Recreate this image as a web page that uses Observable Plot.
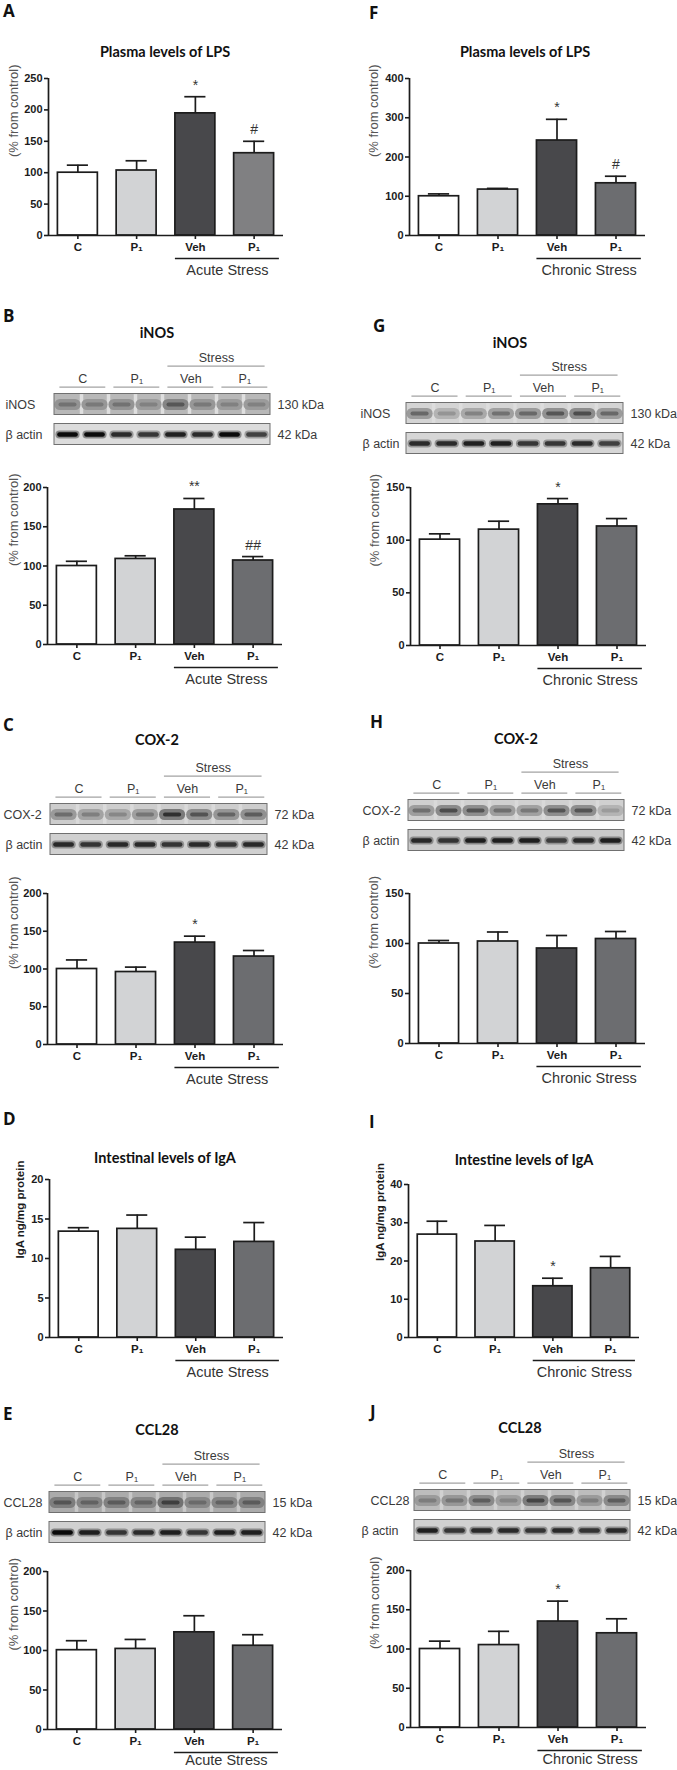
<!DOCTYPE html>
<html><head><meta charset="utf-8">
<script src="https://cdn.jsdelivr.net/npm/d3@7"></script>
<script src="https://cdn.jsdelivr.net/npm/@observablehq/plot@0.6"></script>
<style>
body{margin:0;background:#fff;}
#fig{position:relative;width:677px;height:1770px;overflow:hidden;background:#fff;font-family:"Liberation Sans",Arial,sans-serif;}
.letter{position:absolute;font-family:"Open Sans",Lato,sans-serif;font-weight:700;font-size:17px;color:#111;line-height:1;transform:translateY(-50%);}
.title{position:absolute;font-family:Lato,"Open Sans",sans-serif;font-weight:700;font-size:14.5px;color:#111;white-space:nowrap;line-height:1;transform:translate(-50%,-50%);}
</style></head><body><div id="fig"></div><script>
// ---------- categories ----------
const groups = ["C", "P₁", "Veh", "P₁"];
const blotGroups = ["C", "P₁", "Veh", "P₁"];
const barFills = ["#ffffff", "#d2d3d5", "#48484b", "#6c6d70"];
const barFillsA = ["#ffffff", "#d2d3d5", "#48484b", "#808082"];

// ---------- A: plasma LPS, acute ----------
const lpsAcuteMean = [100, 103.5, 194.5, 131];
const lpsAcuteSem = [12, 15.5, 26.5, 19];
const lpsAcuteSig = ["", "", "*", "#"];
const lpsAcuteTicks = [0, 50, 100, 150, 200, 250];
// ---------- F: plasma LPS, chronic ----------
const lpsChronicMean = [100, 117, 242, 133];
const lpsChronicSem = [6, 3, 54, 18];
const lpsChronicSig = ["", "", "*", "#"];
const lpsChronicTicks = [0, 100, 200, 300, 400];
// ---------- B: iNOS, acute ----------
const inosAcuteMean = [100, 109, 172, 107];
const inosAcuteSem = [6, 4, 14, 5];
const inosAcuteSig = ["", "", "**", "##"];
const inosAcuteTicks = [0, 50, 100, 150, 200];
const inosAcuteBands = [0.45, 0.4, 0.45, 0.35, 0.62, 0.4, 0.35, 0.35];
const inosAcuteActin = [0.95, 0.95, 0.8, 0.75, 0.85, 0.8, 0.95, 0.7];
// ---------- G: iNOS, chronic ----------
const inosChronicMean = [100.5, 110, 134, 113];
const inosChronicSem = [5.5, 8, 5.5, 7.5];
const inosChronicSig = ["", "", "*", ""];
const inosChronicTicks = [0, 50, 100, 150];
const inosChronicBands = [0.6, 0.35, 0.45, 0.55, 0.6, 0.7, 0.75, 0.6];
const inosChronicActin = [0.8, 0.8, 0.85, 0.85, 0.75, 0.75, 0.8, 0.7];
// ---------- C: COX-2, acute ----------
const cox2AcuteMean = [100, 96, 135, 116.5];
const cox2AcuteSem = [12, 6.5, 8.5, 8];
const cox2AcuteSig = ["", "", "*", ""];
const cox2AcuteTicks = [0, 50, 100, 150, 200];
const cox2AcuteBands = [0.55, 0.45, 0.4, 0.5, 0.9, 0.7, 0.6, 0.65];
const cox2AcuteActin = [0.8, 0.75, 0.8, 0.8, 0.75, 0.8, 0.75, 0.8];
// ---------- H: COX-2, chronic ----------
const cox2ChronicMean = [100, 102, 95, 104.5];
const cox2ChronicSem = [3, 9.5, 13, 7.5];
const cox2ChronicSig = ["", "", "", ""];
const cox2ChronicTicks = [0, 50, 100, 150];
const cox2ChronicBands = [0.55, 0.75, 0.7, 0.55, 0.5, 0.7, 0.7, 0.3];
const cox2ChronicActin = [0.8, 0.75, 0.85, 0.85, 0.85, 0.7, 0.8, 0.85];
// ---------- D: intestinal IgA, acute ----------
const igaAcuteMean = [13.4, 13.75, 11.1, 12.1];
const igaAcuteSem = [0.5, 1.75, 1.6, 2.45];
const igaAcuteSig = ["", "", "", ""];
const igaAcuteTicks = [0, 5, 10, 15, 20];
// ---------- I: intestine IgA, chronic ----------
const igaChronicMean = [26.9, 25.1, 13.4, 18.1];
const igaChronicSem = [3.5, 4.2, 2.1, 3.1];
const igaChronicSig = ["", "", "*", ""];
const igaChronicTicks = [0, 10, 20, 30, 40];
// ---------- E: CCL28, acute ----------
const ccl28AcuteMean = [100.4, 102, 123, 106];
const ccl28AcuteSem = [12, 12, 21, 14];
const ccl28AcuteSig = ["", "", "", ""];
const ccl28AcuteTicks = [0, 50, 100, 150, 200];
const ccl28AcuteBands = [0.6, 0.5, 0.55, 0.5, 0.75, 0.45, 0.5, 0.55];
const ccl28AcuteActin = [0.95, 0.85, 0.75, 0.8, 0.85, 0.75, 0.85, 0.85];
// ---------- J: CCL28, chronic ----------
const ccl28ChronicMean = [100, 105, 135, 120];
const ccl28ChronicSem = [10, 17.5, 26, 18.5];
const ccl28ChronicSig = ["", "", "*", ""];
const ccl28ChronicTicks = [0, 50, 100, 150, 200];
const ccl28ChronicBands = [0.4, 0.45, 0.6, 0.35, 0.75, 0.65, 0.4, 0.6];
const ccl28ChronicActin = [0.85, 0.75, 0.8, 0.8, 0.75, 0.8, 0.75, 0.8];

const pctLabel = "(% from control)";
const igaLabel = "IgA ng/mg protein";

// ---------- helpers ----------
const fig = document.getElementById("fig");
const FONT = "'Liberation Sans', Arial, sans-serif";
function place(node, left, top) {
  node.style.position = "absolute";
  node.style.left = left + "px";
  node.style.top = top + "px";
  fig.appendChild(node);
}
function addDiv(cls, text, x, y) {
  const d = document.createElement("div");
  d.className = cls; d.textContent = text;
  d.style.left = x + "px"; d.style.top = y + "px";
  fig.appendChild(d);
}

function barChart(o) {
  const mt = 14, mb = 44, W = 340;
  const ml = o.axisX - o.col, mr = o.col + W - o.axisEnd;
  const H = o.y0 - o.yTop + mt + mb;
  const top = o.ticks[o.ticks.length - 1];
  const n = groups.length;
  const pad = 0.16, cap = 0.18;
  const data = groups.map((g, i) => ({i, g, m: o.mean[i], e: o.mean[i] + o.sem[i], s: o.sig[i], fill: o.fills[i]}));
  const sx1 = 2 + pad, sx2 = n - 0.07;
  const ink = "#1c1c1c";
  const svg = Plot.plot({
    width: W, height: H, marginLeft: ml, marginRight: mr, marginTop: mt, marginBottom: mb,
    style: {fontFamily: FONT, background: "transparent", color: ink, overflow: "visible"},
    x: {type: "linear", domain: [0, n], axis: null},
    y: {type: "linear", domain: [0, top], axis: null},
    color: {type: "identity"},
    marks: [
      Plot.ruleX(data, {x: d => d.i + 0.5, y1: "m", y2: "e", stroke: ink, strokeWidth: 1.7}),
      Plot.ruleY(data, {x1: d => d.i + 0.5 - cap, x2: d => d.i + 0.5 + cap, y: "e", stroke: ink, strokeWidth: 1.7}),
      Plot.rectY(data, {x1: d => d.i + pad, x2: d => d.i + 1 - pad, y: "m", fill: "fill", stroke: ink, strokeWidth: 1.7}),
      Plot.ruleX([0], {y1: 0, y2: top, stroke: ink, strokeWidth: 1.7}),
      Plot.ruleY([0], {stroke: ink, strokeWidth: 1.7}),
      Plot.axisY(o.ticks, {tickSize: 4, tickPadding: 2, strokeWidth: 1.6, fontSize: 11, fontWeight: "bold", label: null}),
      Plot.axisX(data.map(d => d.i + 0.5), {tickSize: 4, tickPadding: 3, strokeWidth: 1.6, fontSize: 11.5, fontWeight: "bold", label: null, tickFormat: v => groups[Math.floor(v)]}),
      Plot.text([o.yLabel], {frameAnchor: "left", rotate: -90, dx: o.labelDx, fontSize: o.labelBold ? 11.5 : 13, fontWeight: o.labelBold ? "bold" : "normal", fill: o.labelBold ? ink : "#555"}),
      Plot.text(data.filter(d => d.s), {x: d => d.i + 0.5, y: "e", text: "s", lineAnchor: "bottom", dy: -7, fontSize: 14, fill: "#333"}),
      Plot.ruleY([0], {x1: sx1, x2: sx2, dy: 23, stroke: ink, strokeWidth: 1.5}),
      Plot.text([o.stress], {x: (sx1 + sx2) / 2, y: 0, dy: o.stressDy || 34.5, fontSize: 14.5, fill: "#333"})
    ]
  });
  place(svg, o.col, o.yTop - mt);
}

function blot(o) {
  const unit = 30, yMin = -1.8, yMax = 1.45, W = 340;
  const H = (yMax - yMin) * unit;
  const nl = o.target.length;
  const rows = [
    {row: 0, label: o.label, kda: o.kda, bg: o.bgTarget, dx: o.labelLeft[0] - o.boxLeft},
    {row: 1, label: "β actin", kda: "42 kDa", bg: o.bgActin, dx: o.labelLeft[1] - o.boxLeft}
  ];
  const bands = [];
  [o.target, o.actin].forEach((arr, r) => arr.forEach((v, i) => bands.push({row: r, i, v, bg: rows[r].bg})));
  const tBands = bands.filter(d => d.row === 0), aBands = bands.filter(d => d.row === 1);
  const gaps = d3.range(1, nl);
  const grp = blotGroups.map((g, k) => ({g, k}));
  const gy = -0.58, sy = -1.28;
  const txt = "#3a3a3a", lineC = "#8c8c8c";
  const col = (d, f) => d3.interpolateRgb(d.bg, "#000")(Math.min(1, d.v * f));
  const streak = d3.interpolateRgb(o.bgTarget, "#fff")(o.streak || 0);
  const svg = Plot.plot({
    width: W, height: H, marginLeft: o.boxLeft - o.col, marginRight: o.col + W - o.boxRight, marginTop: 0, marginBottom: 0,
    style: {fontFamily: FONT, background: "transparent", overflow: "visible"},
    x: {type: "linear", domain: [0, nl], axis: null},
    y: {type: "linear", domain: [yMin, yMax], range: [0, H], axis: null},
    color: {type: "identity"},
    marks: [
      Plot.rect(rows, {x1: 0, x2: nl, y1: d => d.row - 0.35, y2: d => d.row + 0.35, fill: "bg"}),
      Plot.ruleX(gaps, {y1: -0.33, y2: 0.33, stroke: streak, strokeWidth: 3.5}),
      Plot.ruleY(tBands, {x1: d => d.i + 0.22, x2: d => d.i + 0.78, y: "row", stroke: d => col(d, 0.45), strokeWidth: 11, strokeLinecap: "round"}),
      Plot.ruleY(tBands, {x1: d => d.i + 0.24, x2: d => d.i + 0.76, y: "row", stroke: d => col(d, 0.85), strokeWidth: 4, strokeLinecap: "round"}),
      Plot.ruleY(aBands, {x1: d => d.i + 0.2, x2: d => d.i + 0.8, y: "row", stroke: d => col(d, 0.4), strokeWidth: 8, strokeLinecap: "round"}),
      Plot.ruleY(aBands, {x1: d => d.i + 0.2, x2: d => d.i + 0.8, y: "row", stroke: d => col(d, 1), strokeWidth: 4.5, strokeLinecap: "round"}),
      Plot.rect(rows, {x1: 0, x2: nl, y1: d => d.row - 0.35, y2: d => d.row + 0.35, fill: "none", stroke: "#707070", strokeWidth: 1}),
      ...rows.map(r => Plot.text([r], {x: 0, y: "row", text: "label", textAnchor: "start", dx: r.dx, fontSize: 12.5, fill: txt})),
      Plot.text(rows, {x: nl, y: "row", text: "kda", textAnchor: "start", dx: 7, fontSize: 12.5, fill: txt}),
      Plot.ruleY(grp, {x1: d => 2 * d.k + 0.2, x2: d => 2 * d.k + 1.9, y: gy, stroke: lineC, strokeWidth: 1}),
      Plot.text(grp, {x: d => 2 * d.k + 1.05, y: gy, dy: -8, text: "g", fontSize: 12.5, fill: txt}),
      Plot.ruleY([sy], {x1: 4.2, x2: 7.8, stroke: lineC, strokeWidth: 1}),
      Plot.text(["Stress"], {x: 6, y: sy, dy: -8, fontSize: 12.5, fill: txt})
    ]
  });
  place(svg, o.col, o.targetY + yMin * unit);
}

// ---------- panel letters & titles ----------
[["A", 3, 10], ["F", 369, 12], ["B", 3, 315], ["G", 373, 325], ["C", 3, 724], ["H", 370, 721],
 ["D", 3, 1118], ["I", 369, 1121], ["E", 3, 1413], ["J", 370, 1411]].forEach(([t, x, y]) => addDiv("letter", t, x, y));
[["Plasma levels of LPS", 165, 52], ["Plasma levels of LPS", 525, 52], ["iNOS", 157, 333], ["iNOS", 510, 343],
 ["COX-2", 157, 740], ["COX-2", 516, 739], ["Intestinal levels of IgA", 165, 1158], ["Intestine levels of IgA", 524, 1160],
 ["CCL28", 157, 1430], ["CCL28", 520, 1428]].forEach(([t, x, y]) => addDiv("title", t, x, y));

// ---------- bar charts ----------
barChart({col: 0, axisX: 48, axisEnd: 283, yTop: 78, y0: 235, mean: lpsAcuteMean, sem: lpsAcuteSem, sig: lpsAcuteSig, ticks: lpsAcuteTicks, fills: barFillsA, yLabel: pctLabel, labelDx: -35, stress: "Acute Stress"});
barChart({col: 337, axisX: 409, axisEnd: 645, yTop: 78, y0: 235, mean: lpsChronicMean, sem: lpsChronicSem, sig: lpsChronicSig, ticks: lpsChronicTicks, fills: barFills, yLabel: pctLabel, labelDx: -36, stress: "Chronic Stress"});
barChart({col: 0, axisX: 47, axisEnd: 282, yTop: 487, y0: 644, mean: inosAcuteMean, sem: inosAcuteSem, sig: inosAcuteSig, ticks: inosAcuteTicks, fills: barFills, yLabel: pctLabel, labelDx: -34, stress: "Acute Stress"});
barChart({col: 337, axisX: 410, axisEnd: 646, yTop: 487, y0: 645, mean: inosChronicMean, sem: inosChronicSem, sig: inosChronicSig, ticks: inosChronicTicks, fills: barFills, yLabel: pctLabel, labelDx: -36, stress: "Chronic Stress"});
barChart({col: 0, axisX: 47, axisEnd: 283, yTop: 893, y0: 1044, mean: cox2AcuteMean, sem: cox2AcuteSem, sig: cox2AcuteSig, ticks: cox2AcuteTicks, fills: barFills, yLabel: pctLabel, labelDx: -34, stress: "Acute Stress"});
barChart({col: 337, axisX: 409, axisEnd: 645, yTop: 893, y0: 1043, mean: cox2ChronicMean, sem: cox2ChronicSem, sig: cox2ChronicSig, ticks: cox2ChronicTicks, fills: barFills, yLabel: pctLabel, labelDx: -36, stress: "Chronic Stress"});
barChart({col: 0, axisX: 49, axisEnd: 283, yTop: 1179, y0: 1337, mean: igaAcuteMean, sem: igaAcuteSem, sig: igaAcuteSig, ticks: igaAcuteTicks, fills: barFills, yLabel: igaLabel, labelBold: true, labelDx: -29, stress: "Acute Stress"});
barChart({col: 337, axisX: 408, axisEnd: 639, yTop: 1184, y0: 1337, mean: igaChronicMean, sem: igaChronicSem, sig: igaChronicSig, ticks: igaChronicTicks, fills: barFills, yLabel: igaLabel, labelBold: true, labelDx: -28, stress: "Chronic Stress"});
barChart({col: 0, axisX: 47, axisEnd: 282, yTop: 1571, y0: 1729, mean: ccl28AcuteMean, sem: ccl28AcuteSem, sig: ccl28AcuteSig, ticks: ccl28AcuteTicks, fills: barFills, yLabel: pctLabel, labelDx: -34, stress: "Acute Stress", stressDy: 31});
barChart({col: 337, axisX: 410, axisEnd: 646, yTop: 1570, y0: 1727, mean: ccl28ChronicMean, sem: ccl28ChronicSem, sig: ccl28ChronicSig, ticks: ccl28ChronicTicks, fills: barFills, yLabel: pctLabel, labelDx: -36, stress: "Chronic Stress", stressDy: 32});

// ---------- western blots ----------
blot({col: 0, boxLeft: 54, boxRight: 270, targetY: 403.5, target: inosAcuteBands, actin: inosAcuteActin, label: "iNOS", kda: "130 kDa", bgTarget: "#b8b8b8", bgActin: "#dcdcdc", labelLeft: [5, 5], streak: 0.55});
blot({col: 337, boxLeft: 406, boxRight: 623, targetY: 413, target: inosChronicBands, actin: inosChronicActin, label: "iNOS", kda: "130 kDa", bgTarget: "#d4d4d4", bgActin: "#d6d6d6", labelLeft: [360, 362], streak: 0.2});
blot({col: 0, boxLeft: 50, boxRight: 267, targetY: 813.5, target: cox2AcuteBands, actin: cox2AcuteActin, label: "COX-2", kda: "72 kDa", bgTarget: "#cdcdcd", bgActin: "#d0d0d0", labelLeft: [3, 5], streak: 0.25});
blot({col: 337, boxLeft: 408, boxRight: 624, targetY: 810, target: cox2ChronicBands, actin: cox2ChronicActin, label: "COX-2", kda: "72 kDa", bgTarget: "#d0d0d0", bgActin: "#cacaca", labelLeft: [362, 362], streak: 0.2});
blot({col: 0, boxLeft: 49, boxRight: 265, targetY: 1502, target: ccl28AcuteBands, actin: ccl28AcuteActin, label: "CCL28", kda: "15 kDa", bgTarget: "#ababab", bgActin: "#d0d0d0", labelLeft: [3, 5], streak: 0.35});
blot({col: 337, boxLeft: 414, boxRight: 630, targetY: 1500, target: ccl28ChronicBands, actin: ccl28ChronicActin, label: "CCL28", kda: "15 kDa", bgTarget: "#bdbdbd", bgActin: "#d0d0d0", labelLeft: [370, 361], streak: 0.3});
</script></body></html>
